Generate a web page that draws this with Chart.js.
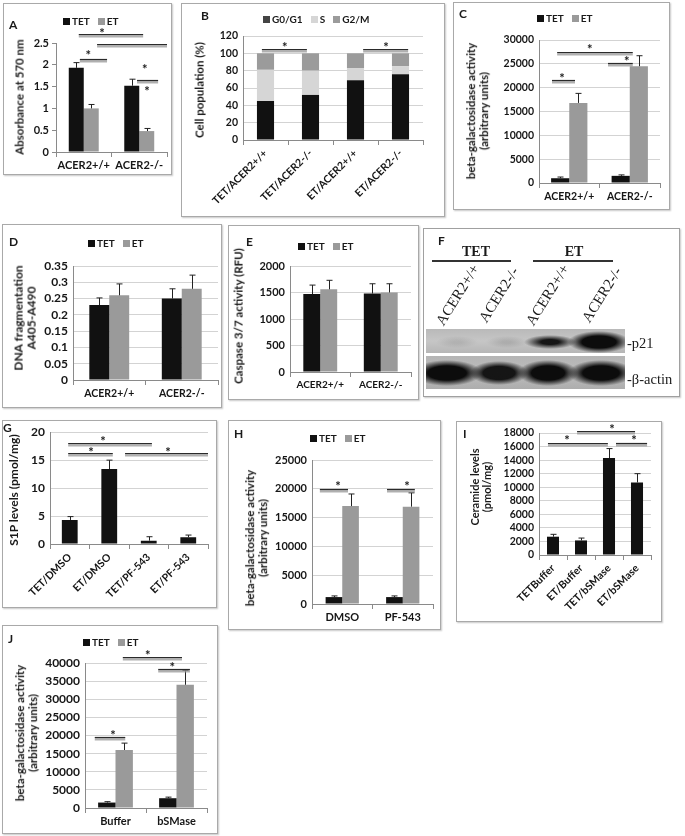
<!DOCTYPE html>
<html><head><meta charset="utf-8">
<script src="https://cdn.jsdelivr.net/npm/chart.js@4.4.1/dist/chart.umd.min.js"></script>
<style>
html,body{margin:0;padding:0;background:#fff;}
body{width:685px;height:836px;position:relative;overflow:hidden;font-family:Lato,"Open Sans",sans-serif;}
.box{position:absolute;border:1px solid #a9a9a9;box-sizing:border-box;background:#fff;box-shadow:1px 1px 1.5px rgba(0,0,0,0.22);}
.t{position:absolute;white-space:nowrap;font-weight:bold;color:#1a1a1a;line-height:1;}
.yt{position:absolute;white-space:nowrap;font-weight:bold;color:#1a1a1a;transform:translate(-50%,-50%) rotate(-90deg);text-align:center;line-height:1.12;}
.lg{position:absolute;white-space:nowrap;font-weight:bold;font-size:10px;line-height:1;color:#1a1a1a;}
.lg span{display:inline-block;margin-right:8px;}
.lg i{display:inline-block;width:7px;height:7px;margin-right:2px;vertical-align:0px;}
.serif{font-family:"Liberation Serif","DejaVu Serif",serif;}
.strip{position:absolute;overflow:hidden;}
.band{position:absolute;}
</style></head><body>
<script>
// ================= DATA =================
const acerCats = ["ACER2+/+", "ACER2-/-"];
const seriesLabels = ["TET", "ET"];

// A: Absorbance at 570 nm
const aTicks = [0, 0.5, 1, 1.5, 2, 2.5];
const aTET = [1.93, 1.52], aTETErr = [0.12, 0.15];
const aET = [1.00, 0.48], aETErr = [0.09, 0.06];
const aSig = [[-0.09, 1.07, 2.71, 0.33, 2.78], [0.24, 1.5, 2.48, 1.10, 1.95], [0.96, 1.34, 1.65, 1.14, 1.45], [-0.07, 0.42, 2.13, 0.08, 2.27]];

// B: Cell population (%)
const bCats = ["TET/ACER2+/+", "TET/ACER2-/-", "ET/ACER2+/+", "ET/ACER2-/-"];
const bPhases = ["G0/G1", "S", "G2/M"];
const bTicks = [0, 20, 40, 60, 80, 100, 120];
const bG0G1 = [45, 52, 69, 76];
const bS = [36, 28, 14, 9];
const bG2M = [19, 20, 17, 15];
const bSig = [[-0.08, 0.92, 105, 0.43, 109.6], [2.17, 3.17, 105, 2.68, 109.6]];

// C: beta-galactosidase activity
const cTicks = [0, 5000, 10000, 15000, 20000, 25000, 30000];
const cTET = [1000, 1500], cTETErr = [250, 200];
const cET = [16800, 24500], cETErr = [2000, 2200];
const cSig = [[-0.285, 0.095, 21600, -0.12, 22450], [0.64, 1.05, 25100, 0.95, 26000], [-0.2, 1.05, 27550, 0.34, 28540]];

// D: DNA fragmentation
const dTicks = [0, 0.05, 0.1, 0.15, 0.2, 0.25, 0.3, 0.35];
const dTET = [0.23, 0.25], dTETErr = [0.022, 0.03];
const dET = [0.26, 0.28], dETErr = [0.035, 0.042];

// E: Caspase 3/7 activity
const eTicks = [0, 500, 1000, 1500, 2000];
const eTET = [1470, 1480], eTETErr = [170, 185];
const eET = [1560, 1500], eETErr = [170, 165];

// G: S1P levels
const gCats = ["TET/DMSO", "ET/DMSO", "TET/PF-543", "ET/PF-543"];
const gTicks = [0, 5, 10, 15, 20];
const gVals = [4.3, 13.4, 0.6, 1.2], gErr = [0.6, 1.6, 0.7, 0.4];
const gSig = [[-0.04, 2.08, 18.0, 0.84, 18.7], [-0.04, 1.09, 16.2, 0.54, 16.9], [1.4, 3.5, 16.2, 2.49, 16.9]];

// H: beta-galactosidase activity (DMSO / PF-543)
const hCats = ["DMSO", "PF-543"];
const hTicks = [0, 5000, 10000, 15000, 20000, 25000];
const hTET = [1200, 1200], hTETErr = [200, 200];
const hET = [17000, 16900], hETErr = [2100, 2400];
const hSig = [[-0.37, 0.095, 20000, -0.07, 20850], [0.74, 1.2, 20000, 1.07, 20850]];

// I: Ceramide levels
const iCats = ["TETBuffer", "ET/Buffer", "TET/bSMase", "ET/bSMase"];
const iTicks = [0, 2000, 4000, 6000, 8000, 10000, 12000, 14000, 16000, 18000];
const iVals = [2700, 2150, 14300, 10700], iErr = [350, 350, 1400, 1300];
const iSig = [[0.86, 2.93, 18300, 2.11, 18950], [-0.18, 1.96, 16580, 0.5, 17230], [2.25, 3.36, 16580, 2.89, 17230]];

// J: beta-galactosidase activity (Buffer / bSMase)
const jCats = ["Buffer", "bSMase"];
const jTicks = [0, 5000, 10000, 15000, 20000, 25000, 30000, 35000, 40000];
const jTET = [1500, 2700], jTETErr = [250, 300];
const jET = [16000, 34000], jETErr = [1900, 4000];
const jSig = [[-0.34, 0.16, 19580, -0.04, 20700], [0.7, 1.22, 38440, 0.93, 39500], [0.12, 1.09, 41650, 0.53, 42800]];

// ================= STYLE =================
const TET_C = '#111111', ET_C = '#9a9a9a';
const S_C = '#d6d6d6', G2M_C = '#9b9b9b';
const AXIS_C = '#8a8a8a', GRID_C = '#d3d3d3', TXT_C = '#161616';

Chart.defaults.font.family = "Lato, 'Open Sans', sans-serif";
Chart.defaults.font.weight = 'bold';
Chart.defaults.color = TXT_C;

const errPlugin = {
  id: 'errBars',
  afterDatasetsDraw(chart) {
    const ctx = chart.ctx, ys = chart.scales.y;
    chart.data.datasets.forEach((ds, i) => {
      if (!ds.err) return;
      const meta = chart.getDatasetMeta(i);
      meta.data.forEach((bar, j) => {
        const top = ys.getPixelForValue(ds.data[j] + ds.err[j]);
        const x = Math.round(bar.x) + 0.5;
        ctx.save();
        ctx.strokeStyle = '#222'; ctx.lineWidth = 1;
        ctx.beginPath();
        ctx.moveTo(x, bar.y); ctx.lineTo(x, top);
        ctx.moveTo(x - 3, top); ctx.lineTo(x + 3, top);
        ctx.stroke();
        ctx.restore();
      });
    });
  }
};

function sigPlugin(items) {
  return {
    id: 'sigLines',
    afterDraw(chart) {
      if (!items || !items.length) return;
      const ctx = chart.ctx, xs = chart.scales.x, ys = chart.scales.y;
      const p0 = xs.getPixelForValue(0), st = xs.getPixelForValue(1) - p0;
      ctx.save();
      items.forEach(([x1, x2, y, sx, sy]) => {
        const X1 = p0 + x1 * st, X2 = p0 + x2 * st;
        const Y = Math.round(ys.getPixelForValue(y)) + 0.5;
        ctx.strokeStyle = 'rgba(150,150,150,0.75)'; ctx.lineWidth = 2.4;
        ctx.beginPath(); ctx.moveTo(X1, Y + 1.8); ctx.lineTo(X2, Y + 1.8); ctx.stroke();
        ctx.strokeStyle = '#2a2a2a'; ctx.lineWidth = 1.2;
        ctx.beginPath(); ctx.moveTo(X1, Y); ctx.lineTo(X2, Y); ctx.stroke();
        ctx.fillStyle = '#1a1a1a';
        ctx.font = "bold 13px Lato, sans-serif";
        ctx.textAlign = 'center'; ctx.textBaseline = 'alphabetic';
        ctx.fillText('*', p0 + sx * st, ys.getPixelForValue(sy) + 7);
      });
      ctx.restore();
    }
  };
}

function pair(tet, tetErr, et, etErr, cp) {
  return [
    { label: seriesLabels[0], data: tet, err: tetErr, backgroundColor: TET_C, barPercentage: 1, categoryPercentage: cp },
    { label: seriesLabels[1], data: et, err: etErr, backgroundColor: ET_C, barPercentage: 1, categoryPercentage: cp }
  ];
}

function addBox(b, extra) {
  const d = document.createElement('div');
  d.className = 'box';
  d.style.cssText = `left:${b[0]}px;top:${b[1]}px;width:${b[2] - b[0]}px;height:${b[3] - b[1]}px;` + (extra || '');
  document.body.appendChild(d);
}
function addText(html, x, y, cls, css) {
  const d = document.createElement('div');
  d.className = cls || 't';
  d.innerHTML = html;
  d.style.cssText = `left:${x}px;top:${y}px;` + (css || '');
  document.body.appendChild(d);
  return d;
}
function addLegend(x, y, items) {
  const d = document.createElement('div');
  d.className = 'lg';
  d.style.left = x + 'px'; d.style.top = (y - 5) + 'px';
  d.innerHTML = items.map(([n, c]) => `<span><i style="background:${c}"></i>${n}</span>`).join('');
  document.body.appendChild(d);
}

function makeChart(o) {
  const [bl, bt, br, bb] = o.box, [pl, pt, pr, pb] = o.plot;
  addBox(o.box);
  const cv = document.createElement('canvas');
  cv.width = br - bl; cv.height = bb - bt;
  cv.style.cssText = `position:absolute;left:${bl}px;top:${bt}px;width:${br - bl}px;height:${bb - bt}px;`;
  document.body.appendChild(cv);
  const fs = o.fs || 11, grid = o.grid !== false;
  if (o.letter) addText(o.letter[0], o.letter[1], o.letter[2], 't', 'font-size:12px;');
  if (o.legend) addLegend(o.legend[0], o.legend[1], o.legend[2]);
  if (o.ytitle) addText(o.ytitle[0], o.ytitle[1], o.ytitle[2], 'yt', `font-size:${o.ytitle[3]}px;`);
  return new Chart(cv, {
    type: 'bar',
    data: { labels: o.labels, datasets: o.datasets },
    plugins: [errPlugin, sigPlugin(o.sig)],
    options: {
      responsive: false, maintainAspectRatio: false, animation: false, devicePixelRatio: 1,
      layout: { padding: { left: 0, top: pt - bt, right: br - pr, bottom: 0 } },
      plugins: { legend: { display: false }, tooltip: { enabled: false }, title: { display: false } },
      scales: {
        x: {
          stacked: !!o.stacked, offset: true,
          grid: { display: true, drawOnChartArea: false, drawTicks: true, tickLength: 5, color: AXIS_C, offset: true },
          border: { display: true, color: AXIS_C, width: 1 },
          ticks: { font: { size: o.xfs || fs, weight: 'bold' }, color: TXT_C, autoSkip: false,
                   maxRotation: o.rot || 0, minRotation: o.rot || 0, padding: o.xpad || 2 },
          afterFit(s) { s.height = bb - pb; }
        },
        y: {
          stacked: !!o.stacked, min: o.ticks[0], max: o.ticks[o.ticks.length - 1],
          afterBuildTicks(s) { s.ticks = o.ticks.map(v => ({ value: v })); },
          grid: { display: true, drawOnChartArea: grid, drawTicks: !grid, tickLength: 4, color: grid ? GRID_C : AXIS_C },
          border: { display: true, color: AXIS_C, width: 1 },
          ticks: { font: { size: fs, weight: 'bold' }, color: TXT_C, padding: grid ? 5 : 3, autoSkip: false, callback: v => String(v) },
          afterFit(s) { s.width = pl - bl; }
        }
      }
    }
  });
}

const tetEt = [[seriesLabels[0], TET_C], [seriesLabels[1], ET_C]];

// ---- A ----
makeChart({ box: [3, 3, 172, 175], plot: [56, 43, 167, 152], labels: acerCats, ticks: aTicks, grid: false, fs: 11,
  datasets: pair(aTET, aTETErr, aET, aETErr, 0.54), sig: aSig,
  letter: ['A', 9, 19], legend: [63, 21, tetEt], ytitle: ['Absorbance at 570 nm', 20, 97, 11.5] });

// ---- B ----
makeChart({ box: [181, 3, 445, 217], plot: [243, 36, 423, 140], labels: bCats, ticks: bTicks, stacked: true, rot: 45, fs: 10.5,
  datasets: [
    { label: bPhases[0], data: bG0G1, backgroundColor: TET_C, barPercentage: 1, categoryPercentage: 0.38 },
    { label: bPhases[1], data: bS, backgroundColor: S_C, barPercentage: 1, categoryPercentage: 0.38 },
    { label: bPhases[2], data: bG2M, backgroundColor: G2M_C, barPercentage: 1, categoryPercentage: 0.38 }
  ], sig: bSig,
  letter: ['B', 201, 10], legend: [263, 19, [[bPhases[0], '#444'], [bPhases[1], S_C], [bPhases[2], G2M_C]]],
  ytitle: ['Cell population (%)', 200, 90, 11.5] });

// ---- C ----
makeChart({ box: [453, 2, 670, 210], plot: [539, 40, 660, 183], labels: acerCats, ticks: cTicks, fs: 10.5,
  datasets: pair(cTET, cTETErr, cET, cETErr, 0.6), sig: cSig,
  letter: ['C', 459, 8], legend: [537, 18, tetEt],
  ytitle: ['beta-galactosidase activity<br>(arbitrary units)', 478, 111, 11.5] });

// ---- D ----
makeChart({ box: [2, 224, 222, 408], plot: [73, 266, 218, 380], labels: acerCats, ticks: dTicks, fs: 12, xfs: 10.5,
  datasets: pair(dTET, dTETErr, dET, dETErr, 0.55),
  letter: ['D', 9, 236], legend: [88, 243, tetEt],
  ytitle: ['DNA fragmentation<br>A405-A490', 25, 318, 12] });

// ---- E ----
makeChart({ box: [228, 225, 419, 400], plot: [290, 266, 411, 372], labels: acerCats, ticks: eTicks, fs: 11, xfs: 10,
  datasets: pair(eTET, eTETErr, eET, eETErr, 0.56),
  letter: ['E', 246, 236], legend: [298, 246, tetEt],
  ytitle: ['Caspase 3/7 activity (RFU)', 239, 316, 11.5] });

// ---- G ----
makeChart({ box: [2, 420, 217, 608], plot: [50, 432, 208, 544], labels: gCats, ticks: gTicks, rot: 45, fs: 12, xfs: 10.5,
  datasets: [{ label: 'S1P', data: gVals, err: gErr, backgroundColor: TET_C, barPercentage: 1, categoryPercentage: 0.4 }],
  sig: gSig, letter: ['G', 3, 422], ytitle: ['S1P levels (pmol/mg)', 14, 490, 12] });

// ---- H ----
makeChart({ box: [228, 420, 441, 630], plot: [312, 460, 433, 604], labels: hCats, ticks: hTicks, fs: 11,
  datasets: pair(hTET, hTETErr, hET, hETErr, 0.55), sig: hSig,
  letter: ['H', 234, 428], legend: [310, 438, tetEt],
  ytitle: ['beta-galactosidase activity<br>(arbitrary units)', 257, 538, 11.5] });

// ---- I ----
makeChart({ box: [456, 421, 662, 622], plot: [539, 433, 651, 555], labels: iCats, ticks: iTicks, rot: 45, fs: 10.5, xfs: 10.5,
  datasets: [{ label: 'Ceramide', data: iVals, err: iErr, backgroundColor: TET_C, barPercentage: 1, categoryPercentage: 0.43 }],
  sig: iSig, letter: ['I', 463, 428], ytitle: ['Ceramide levels<br>(pmol/mg)', 481, 487, 11] });

// ---- J ----
makeChart({ box: [2, 625, 218, 834], plot: [85, 663, 207, 808], labels: jCats, ticks: jTicks, fs: 12, xfs: 11,
  datasets: pair(jTET, jTETErr, jET, jETErr, 0.57), sig: jSig,
  letter: ['J', 8, 633], legend: [83, 642, tetEt],
  ytitle: ['beta-galactosidase activity<br>(arbitrary units)', 27, 733, 11.5] });

// ---- F (western blot panel) ----
const fLanes = ["ACER2+/+", "ACER2-/-", "ACER2+/+", "ACER2-/-"];
const fGroups = ["TET", "ET"];
addBox([423, 228, 680, 397], 'border:1.5px solid #a0a0a0;');
addText('F', 438, 235, 't', 'font-size:12px;');
addText(fGroups[0], 476, 252, 't serif', 'font-size:14px;transform:translate(-50%,-50%);');
addText(fGroups[1], 574, 252, 't serif', 'font-size:14px;transform:translate(-50%,-50%);');
addText('', 432, 260, 't', 'width:79px;height:2px;background:#333;');
addText('', 533, 260, 't', 'width:80px;height:2px;background:#333;');
[[446, 328], [489, 325], [536, 328], [592, 325]].forEach(([x, y], k) => {
  addText(fLanes[k], x, y - 15, 't serif', 'font-weight:normal;font-size:15px;line-height:15px;transform-origin:0 100%;transform:rotate(-58deg);');
});
function strip(x, y, w, h, bg, bands) {
  const s = document.createElement('div');
  s.className = 'strip';
  s.style.cssText = `left:${x}px;top:${y}px;width:${w}px;height:${h}px;background:${bg};`;
  bands.forEach(([bx, by, bw, bh, a, stop]) => {
    const b = document.createElement('div');
    b.className = 'band';
    b.style.cssText = `left:${bx - x}px;top:${by - y}px;width:${bw}px;height:${bh}px;background:radial-gradient(ellipse closest-side, rgba(12,12,12,${a}) ${stop}%, rgba(12,12,12,0) 100%);`;
    s.appendChild(b);
  });
  document.body.appendChild(s);
}
strip(426, 329, 199, 24, 'linear-gradient(#b9b9b9,#c6c6c6 50%,#b6b6b6)', [
  [436, 336, 42, 12, 0.10, 20], [486, 336, 42, 12, 0.13, 20],
  [524, 335, 52, 14, 0.95, 35], [568, 331, 62, 22, 1, 55]
]);
strip(426, 356, 199, 33, 'linear-gradient(#b4b4b4,#bdbdbd 50%,#adadad)', [
  [412, 360, 70, 26, 1, 55], [470, 361, 58, 24, 0.95, 55], [518, 360, 60, 26, 1, 55], [568, 360, 66, 26, 1, 55]
]);
addText('-p21', 627, 343, 't serif', 'font-weight:normal;font-size:14.5px;transform:translateY(-50%);');
addText('-&beta;-actin', 627, 379, 't serif', 'font-weight:normal;font-size:14.5px;transform:translateY(-50%);');
</script>
</body></html>
